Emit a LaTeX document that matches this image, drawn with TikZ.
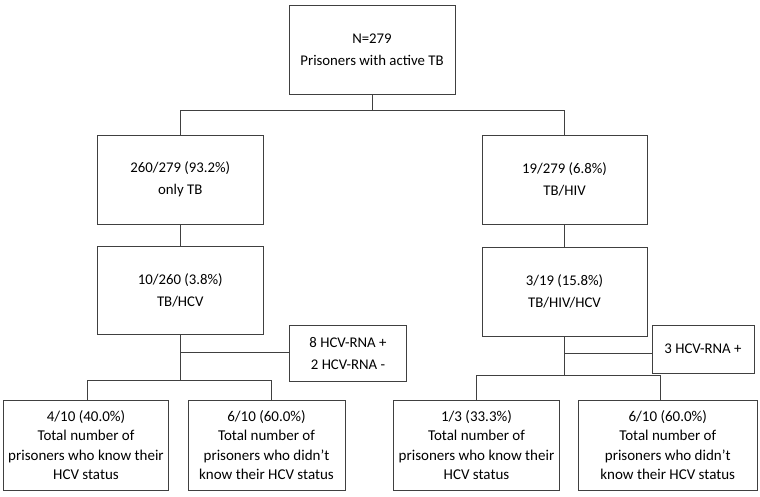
\documentclass[tikz,border=0pt]{standalone}
\usepackage{fontspec}
\setmainfont{Carlito}
\begin{document}
\begin{tikzpicture}[x=1pt,y=1pt,
  box/.style={draw=black!75,line width=0.9pt,inner sep=0pt,align=center,
    font=\fontsize{14.8}{22}\selectfont},
  bbox/.style={box,font=\fontsize{15}{19.5}\selectfont},
  conn/.style={draw=black!75,line width=0.9pt}]
\useasboundingbox (0,0) rectangle (760,-497);
\node[box,minimum width=166pt,minimum height=89pt] (top) at (372,-49.5) {N=279\\Prisoners with active TB};
\node[box,minimum width=165.5pt,minimum height=89pt] (l2l) at (180.25,-179.5) {260/279 (93.2\%)\\only TB};
\node[box,minimum width=165pt,minimum height=89pt] (l2r) at (564.5,-179.5) {19/279 (6.8\%)\\TB/HIV};
\node[box,minimum width=165.5pt,minimum height=88pt] (l3l) at (180.25,-290.5) {10/260 (3.8\%)\\TB/HCV};
\node[box,minimum width=165pt,minimum height=88.5pt] (l3r) at (564.5,-291.75) {3/19 (15.8\%)\\TB/HIV/HCV};
\node[box,minimum width=117pt,minimum height=56pt] (rnal) at (348,-353) {8 HCV-RNA +\\2 HCV-RNA -};
\node[box,minimum width=102pt,minimum height=48pt] (rnar) at (703,-349) {3 HCV-RNA +};
\node[bbox,minimum width=165pt,minimum height=90pt] (ll) at (86,-445) {4/10 (40.0\%)\\Total number of\\prisoners who know their\\HCV status};
\node[bbox,minimum width=157pt,minimum height=90pt] (lr) at (266.5,-445) {6/10 (60.0\%)\\Total number of\\prisoners who didn’t\\know their HCV status};
\node[bbox,minimum width=166pt,minimum height=90pt] (rl) at (476.5,-445) {1/3 (33.3\%)\\Total number of\\prisoners who know their\\HCV status};
\node[bbox,minimum width=178.5pt,minimum height=90pt] (rr) at (667.75,-445) {6/10 (60.0\%)\\Total number of\\prisoners who didn’t\\know their HCV status};
\coordinate (j0) at (372,-110.7);
\coordinate (jl) at (180.25,-380.7);
\coordinate (jr) at (564.5,-375);
\coordinate (bl1) at (87.3,-380.7);
\coordinate (bl2) at (271.7,-380.7);
\coordinate (br1) at (476.7,-375);
\coordinate (br2) at (660,-375);
\coordinate (hl) at (180.25,-352.7);
\coordinate (hr) at (564.5,-353.3);
\draw[conn] (top.south) -- (j0);
\draw[conn] (l2l.north) |- (j0) -| (l2r.north);
\draw[conn] (l2l.south) -- (l3l.north);
\draw[conn] (l2r.south) -- (l3r.north);
\draw[conn] (l3l.south) -- (jl);
\draw[conn] (l3r.south) -- (jr);
\draw[conn] (hl) -- (hl -| rnal.west);
\draw[conn] (hr) -- (hr -| rnar.west);
\draw[conn] (bl1) -- (bl2);
\draw[conn] (br1) -- (br2);
\draw[conn] (bl1) -- (bl1 |- ll.north);
\draw[conn] (bl2) -- (bl2 |- lr.north);
\draw[conn] (br1) -- (br1 |- rl.north);
\draw[conn] (br2) -- (br2 |- rr.north);
\end{tikzpicture}
\end{document}
